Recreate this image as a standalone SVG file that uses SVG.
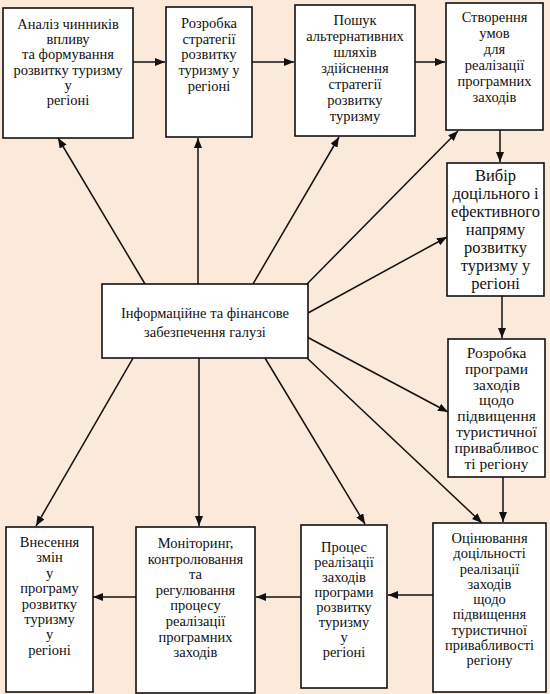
<svg xmlns="http://www.w3.org/2000/svg" width="550" height="694" viewBox="0 0 550 694">
<defs>
<style>
.bg{fill:#fbe9d9}
.box{fill:#ffffff;stroke:#111;stroke-width:1.6}
.t{font-family:"Liberation Serif","Times New Roman",serif;font-size:14.5px;fill:#111;text-anchor:middle}
.t5{font-size:16.5px}
.t6{font-size:15.5px}
.c{fill:none;stroke:#111;stroke-width:1.5;marker-end:url(#ah)}
</style>
<marker id="ah" viewBox="0 0 10 8" refX="10" refY="4" markerWidth="10" markerHeight="8" markerUnits="userSpaceOnUse" orient="auto">
<path d="M0,0 L10,4 L0,8 z" fill="#111"/>
</marker>
</defs>
<rect class="bg" x="0" y="0" width="550" height="694"/>
<g id="connectors">
<line class="c" x1="133" y1="62" x2="165" y2="62"/>
<line class="c" x1="252" y1="62" x2="294" y2="62"/>
<line class="c" x1="415" y1="62" x2="445" y2="62"/>
<line class="c" x1="500" y1="130" x2="500" y2="162"/>
<line class="c" x1="502" y1="296" x2="502" y2="338"/>
<line class="c" x1="503" y1="477" x2="503" y2="522"/>
<line class="c" x1="433" y1="595" x2="388" y2="595"/>
<line class="c" x1="301" y1="597" x2="256" y2="597"/>
<line class="c" x1="136" y1="597" x2="93" y2="597"/>
<line class="c" x1="145" y1="284" x2="58" y2="138"/>
<line class="c" x1="198" y1="284" x2="198" y2="138"/>
<line class="c" x1="253" y1="284" x2="339" y2="137"/>
<line class="c" x1="307" y1="284" x2="458" y2="131"/>
<line class="c" x1="308" y1="313" x2="447" y2="237"/>
<line class="c" x1="307" y1="337" x2="448" y2="412"/>
<line class="c" x1="307" y1="358" x2="482" y2="523"/>
<line class="c" x1="265" y1="358" x2="365" y2="524"/>
<line class="c" x1="199" y1="358" x2="199" y2="526"/>
<line class="c" x1="133" y1="358" x2="36" y2="526"/>
</g>
<g id="n1">
<rect class="box" x="3" y="8" width="130" height="130"/>
<text class="t" x="68" y="29">Аналіз чинників</text>
<text class="t" x="68" y="44.2">впливу</text>
<text class="t" x="68" y="59.4">та формування</text>
<text class="t" x="68" y="74.6">розвитку туризму</text>
<text class="t" x="68" y="89.8">у</text>
<text class="t" x="68" y="105">регіоні</text>
</g>
<g id="n2">
<rect class="box" x="166" y="7" width="86" height="130"/>
<text class="t" x="209" y="28">Розробка</text>
<text class="t" x="209" y="43.7">стратегії</text>
<text class="t" x="209" y="59.4">розвитку</text>
<text class="t" x="209" y="75.1">туризму у</text>
<text class="t" x="209" y="90.8">регіоні</text>
</g>
<g id="n3">
<rect class="box" x="295" y="5" width="120" height="131"/>
<text class="t" x="355" y="25">Пошук</text>
<text class="t" x="355" y="41">альтернативних</text>
<text class="t" x="355" y="57">шляхів</text>
<text class="t" x="355" y="73">здійснення</text>
<text class="t" x="355" y="89">стратегії</text>
<text class="t" x="355" y="105">розвитку</text>
<text class="t" x="355" y="121">туризму</text>
</g>
<g id="n4">
<rect class="box" x="446" y="3" width="97" height="127"/>
<text class="t" x="494.5" y="22">Створення</text>
<text class="t" x="494.5" y="38">умов</text>
<text class="t" x="494.5" y="54">для</text>
<text class="t" x="494.5" y="70">реалізації</text>
<text class="t" x="494.5" y="86">програмних</text>
<text class="t" x="494.5" y="102">заходів</text>
</g>
<g id="n5">
<rect class="box" x="447" y="163" width="97" height="133"/>
<text class="t t5" x="495.5" y="181">Вибір</text>
<text class="t t5" x="495.5" y="199">доцільного і</text>
<text class="t t5" x="495.5" y="217">ефективного</text>
<text class="t t5" x="495.5" y="235">напряму</text>
<text class="t t5" x="495.5" y="253">розвитку</text>
<text class="t t5" x="495.5" y="271">туризму у</text>
<text class="t t5" x="495.5" y="289">регіоні</text>
</g>
<g id="n6">
<rect class="box" x="448" y="339" width="97" height="138"/>
<text class="t t6" x="496.5" y="358">Розробка</text>
<text class="t t6" x="496.5" y="373.8">програми</text>
<text class="t t6" x="496.5" y="389.6">заходів</text>
<text class="t t6" x="496.5" y="405.4">щодо</text>
<text class="t t6" x="496.5" y="421.2">підвищення</text>
<text class="t t6" x="496.5" y="437">туристичної</text>
<text class="t t6" x="496.5" y="452.8">привабливос</text>
<text class="t t6" x="496.5" y="468.6">ті регіону</text>
</g>
<g id="n7">
<rect class="box" x="433" y="523" width="113" height="169"/>
<text class="t" x="489.5" y="543">Оцінювання</text>
<text class="t" x="489.5" y="558.3">доцільності</text>
<text class="t" x="489.5" y="573.5">реалізації</text>
<text class="t" x="489.5" y="588.8">заходів</text>
<text class="t" x="489.5" y="604">щодо</text>
<text class="t" x="489.5" y="619.3">підвищення</text>
<text class="t" x="489.5" y="634.5">туристичної</text>
<text class="t" x="489.5" y="649.8">привабливості</text>
<text class="t" x="489.5" y="665">регіону</text>
</g>
<g id="n8">
<rect class="box" x="6" y="527" width="87" height="165"/>
<text class="t" x="49.5" y="547">Внесення</text>
<text class="t" x="49.5" y="562.4">змін</text>
<text class="t" x="49.5" y="577.8">у</text>
<text class="t" x="49.5" y="593.2">програму</text>
<text class="t" x="49.5" y="608.6">розвитку</text>
<text class="t" x="49.5" y="624">туризму</text>
<text class="t" x="49.5" y="639.4">у</text>
<text class="t" x="49.5" y="654.8">регіоні</text>
</g>
<g id="n9">
<rect class="box" x="136" y="527" width="119" height="166"/>
<text class="t" x="195.5" y="548">Моніторинг,</text>
<text class="t" x="195.5" y="563.6">контролювання</text>
<text class="t" x="195.5" y="579.2">та</text>
<text class="t" x="195.5" y="594.8">регулювання</text>
<text class="t" x="195.5" y="610.4">процесу</text>
<text class="t" x="195.5" y="626">реалізації</text>
<text class="t" x="195.5" y="641.6">програмних</text>
<text class="t" x="195.5" y="657.2">заходів</text>
</g>
<g id="n10">
<rect class="box" x="301" y="525" width="86" height="163"/>
<text class="t" x="344" y="552">Процес</text>
<text class="t" x="344" y="567">реалізації</text>
<text class="t" x="344" y="582">заходів</text>
<text class="t" x="344" y="597">програми</text>
<text class="t" x="344" y="612">розвитку</text>
<text class="t" x="344" y="627">туризму</text>
<text class="t" x="344" y="642">у</text>
<text class="t" x="344" y="657">регіоні</text>
</g>
<g id="center">
<rect class="box" x="102" y="284" width="206" height="74"/>
<text class="t" x="205" y="318">Інформаційне та фінансове</text>
<text class="t" x="205" y="337">забезпечення галузі</text>
</g>
</svg>
